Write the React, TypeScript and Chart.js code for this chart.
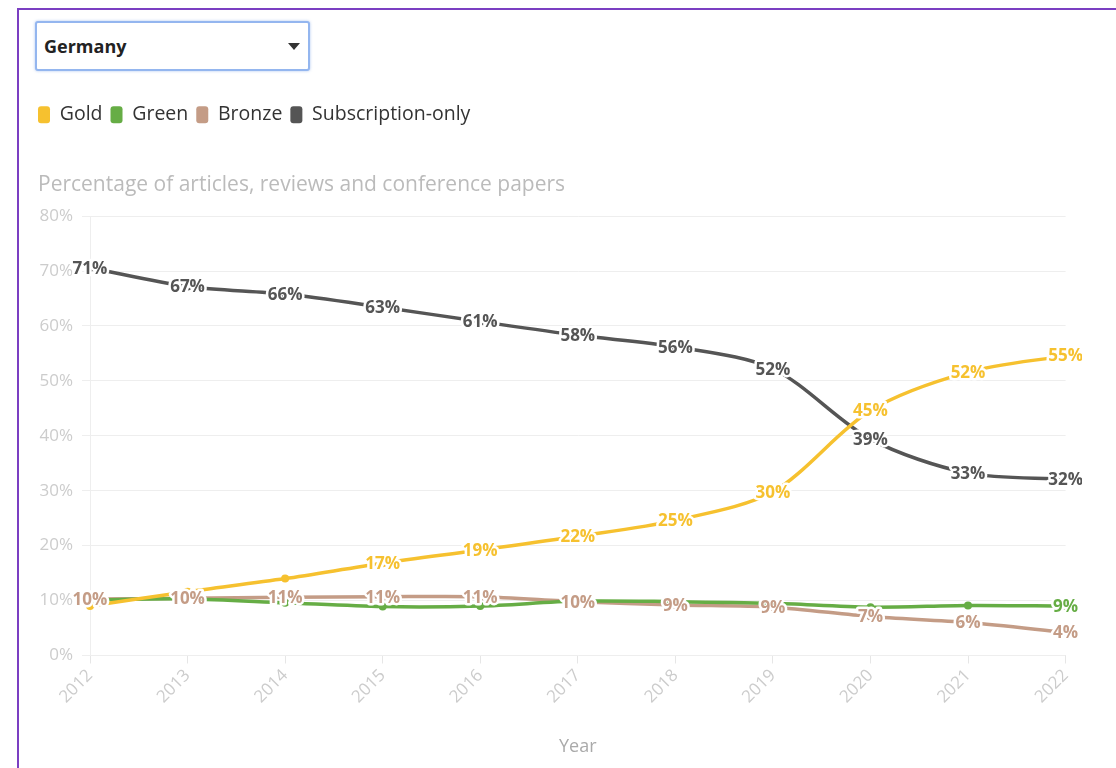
import React, { useEffect, useRef } from "react";
import { Chart, registerables } from "chart.js";

Chart.register(...registerables);

const years = ["2012", "2013", "2014", "2015", "2016", "2017", "2018", "2019", "2020", "2021", "2022"];
const goldValues = [9.0, 11.6, 14.0, 16.8, 19.2, 21.7, 24.6, 29.8, 44.6, 51.6, 54.6];
const greenValues = [10.1, 10.3, 9.6, 8.9, 9.0, 9.9, 9.8, 9.5, 8.8, 9.1, 9.0];
const bronzeValues = [10.3, 10.4, 10.6, 10.7, 10.7, 9.8, 9.2, 8.8, 7.1, 6.0, 4.2];
const subscriptionValues = [70.6, 67.2, 65.8, 63.4, 60.8, 58.3, 56.2, 52.2, 39.4, 33.2, 32.1];
const seriesNames = ["Gold", "Green", "Bronze", "Subscription-only"];
const seriesColors = ["#f6c12f", "#66ad45", "#c49c86", "#555555"];
const yTicks = [0, 10, 20, 30, 40, 50, 60, 70, 80];
const country = "Germany";
const yTitle = "Percentage of articles, reviews and conference papers";
const xTitle = "Year";

const FONT = "'Open Sans', 'Noto Sans', sans-serif";

const labelPlugin = {
  id: "pointLabels",
  afterDatasetsDraw(chart: any) {
    const ctx = chart.ctx;
    const order = [3, 2, 0, 1];
    const boxes: { x1: number; y1: number; x2: number; y2: number }[] = [];
    ctx.save();
    ctx.font = `bold 17px ${FONT}`;
    ctx.textAlign = "center";
    ctx.textBaseline = "middle";
    ctx.lineJoin = "round";
    for (const di of order) {
      const meta = chart.getDatasetMeta(di);
      const ds = chart.data.datasets[di];
      meta.data.forEach((pt: any, j: number) => {
        const text = Math.round(ds.data[j]) + "%";
        const w = ctx.measureText(text).width + 6;
        const h = 20;
        const b = { x1: pt.x - w / 2, y1: pt.y - h / 2, x2: pt.x + w / 2, y2: pt.y + h / 2 };
        const hit = boxes.some((o) => b.x1 < o.x2 && b.x2 > o.x1 && b.y1 < o.y2 && b.y2 > o.y1);
        if (hit) return;
        boxes.push(b);
        ctx.strokeStyle = "#ffffff";
        ctx.lineWidth = 5;
        ctx.strokeText(text, pt.x, pt.y + 1);
        ctx.fillStyle = ds.borderColor;
        ctx.fillText(text, pt.x, pt.y + 1);
      });
    }
    ctx.restore();
  },
};

const axisTitlePlugin = {
  id: "yTopTitle",
  afterDraw(chart: any) {
    const ctx = chart.ctx;
    const boxes = chart.legend && chart.legend.legendHitBoxes;
    const x = boxes && boxes.length ? boxes[0].left : 18;
    ctx.save();
    ctx.font = `21px ${FONT}`;
    ctx.fillStyle = "#bbbbbb";
    ctx.textAlign = "left";
    ctx.textBaseline = "middle";
    ctx.fillText(yTitle, x, chart.chartArea.top - 31);
    ctx.restore();
  },
};

function ChartView() {
  const ref = useRef<HTMLCanvasElement>(null);
  useEffect(() => {
    const valueLists = [goldValues, greenValues, bronzeValues, subscriptionValues];
    const chart = new Chart(ref.current as HTMLCanvasElement, {
      type: "line",
      data: {
        labels: years,
        datasets: valueLists.map((vals, i) => ({
          label: seriesNames[i],
          data: vals,
          borderColor: seriesColors[i],
          backgroundColor: seriesColors[i],
          borderWidth: 3.5,
          tension: 0.3,
          pointRadius: 4,
          pointHoverRadius: 4,
          pointBorderWidth: 0,
          fill: false,
        })),
      },
      options: {
        animation: false,
        responsive: true,
        maintainAspectRatio: false,
        layout: { padding: { left: 10, right: 16, top: 2, bottom: 10 } },
        plugins: {
          legend: {
            position: "top",
            align: "start",
            labels: {
              boxWidth: 12,
              boxHeight: 17,
              useBorderRadius: true,
              borderRadius: 3,
              padding: 8,
              color: "#333333",
              font: { family: FONT, size: 19.5 },
              generateLabels: (chart: any) =>
                chart.data.datasets.map((ds: any, i: number) => ({
                  text: ds.label,
                  fillStyle: ds.borderColor,
                  strokeStyle: ds.borderColor,
                  lineWidth: 0,
                  fontColor: "#333333",
                  borderRadius: 3,
                  datasetIndex: i,
                  hidden: false,
                })),
            },
          },
          title: {
            display: true,
            text: " ",
            align: "start",
            color: "#bbbbbb",
            weight: 500,
            font: { family: FONT, size: 18, weight: "normal" },
            padding: { top: 38, bottom: 22 },
          } as any,
          tooltip: { enabled: false },
        },
        scales: {
          x: {
            offset: false,
            grid: {
              display: true,
              drawOnChartArea: false,
              drawTicks: true,
              tickLength: 8,
              color: "#e6e6e6",
            },
            border: { display: false },
            ticks: {
              color: "#cccccc",
              font: { family: FONT, size: 17 },
              minRotation: 45,
              maxRotation: 45,
              padding: 2,
            },
            title: {
              display: true,
              text: xTitle,
              color: "#aaaaaa",
              font: { family: FONT, size: 18 },
              padding: { top: 27, bottom: 0 },
            },
          },
          y: {
            min: 0,
            max: 80,
            afterBuildTicks: (axis: any) => {
              axis.ticks = yTicks.map((v) => ({ value: v }));
            },
            afterFit: (axis: any) => {
              axis.width = 60;
            },
            grid: {
              color: "#eeeeee",
              tickLength: 8,
              lineWidth: 1,
            },
            border: { display: true, color: "#eeeeee" },
            ticks: {
              color: "#cccccc",
              font: { family: FONT, size: 17 },
              padding: 9,
              callback: (v: any) => v + "%",
            },
          },
        },
      },
      plugins: [labelPlugin, axisTitlePlugin],
    } as any);
    return () => chart.destroy();
  }, []);
  return <canvas ref={ref} />;
}

export default function App() {
  return (
    <div style={{ position: "absolute", left: 0, top: 0, width: 1116, height: 768, overflow: "hidden", background: "#fff" }}>
      <div
        style={{
          position: "absolute",
          left: 17,
          top: 8,
          width: 1200,
          height: 900,
          borderTop: "2px solid #7b3fc2",
          borderLeft: "2px solid #7b3fc2",
        }}
      />
      <div
        style={{
          position: "absolute",
          left: 35,
          top: 21,
          width: 275,
          height: 50,
          border: "2px solid #94b6ef",
          borderRadius: 3,
          boxShadow: "0 0 3px rgba(120,160,230,0.6)",
          fontFamily: FONT,
          fontWeight: "bold",
          fontSize: 18,
          color: "#222",
          display: "flex",
          alignItems: "center",
          paddingLeft: 7,
          boxSizing: "border-box",
          background: "#fff",
        }}
      >
        {country}
        <div
          style={{
            position: "absolute",
            left: 251,
            top: 20,
            width: 0,
            height: 0,
            borderLeft: "6px solid transparent",
            borderRight: "6px solid transparent",
            borderTop: "7px solid #333",
          }}
        />
      </div>
      <div style={{ position: "absolute", left: 20, top: 95, width: 1062, height: 673 }}>
        <ChartView />
      </div>
    </div>
  );
}
